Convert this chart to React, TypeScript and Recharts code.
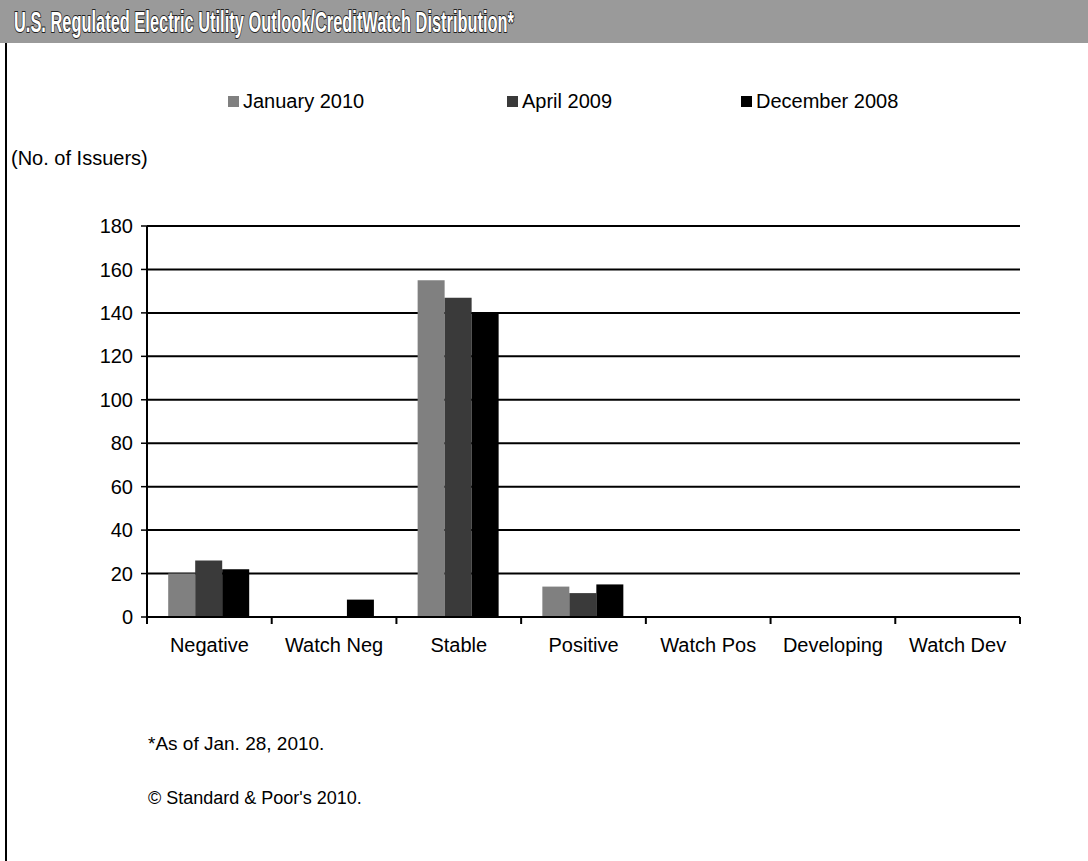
import React from 'react'
import { BarChart, Bar, XAxis, YAxis, CartesianGrid } from 'recharts'

const categories = ['Negative', 'Watch Neg', 'Stable', 'Positive', 'Watch Pos', 'Developing', 'Watch Dev']
const jan2010 = [20, 0, 155, 14, 0, 0, 0]
const apr2009 = [26, 0, 147, 11, 0, 0, 0]
const dec2008 = [22, 8, 140, 15, 0, 0, 0]
const yTicks = [0, 20, 40, 60, 80, 100, 120, 140, 160, 180]

const series = [
  { key: 'jan', name: 'January 2010', color: '#808080', legendX: 228 },
  { key: 'apr', name: 'April 2009', color: '#3a3a3a', legendX: 507 },
  { key: 'dec', name: 'December 2008', color: '#000000', legendX: 741 },
]

const data = categories.map((c, i) => ({
  name: c,
  jan: jan2010[i],
  apr: apr2009[i],
  dec: dec2008[i],
}))

const font = '"Liberation Sans", Arial, sans-serif'

function CategoryTick(props: any) {
  const { x, y, payload, index, visibleTicksCount } = props
  const half = payload?.offset ?? 0
  const last = index === visibleTicksCount - 1
  return (
    <g>
      <line x1={x - half} x2={x - half} y1={y} y2={y + 7} stroke="#000" strokeWidth={2} />
      {last && <line x1={x + half} x2={x + half} y1={y} y2={y + 7} stroke="#000" strokeWidth={2} />}
      <text x={x} y={y + 35} textAnchor="middle" fontSize={20} fontFamily={font} fill="#000">
        {payload.value}
      </text>
    </g>
  )
}

export default function App() {
  return (
    <div style={{ position: 'absolute', left: 0, top: 0, width: 1088, height: 861, background: '#fff', fontFamily: font, overflow: 'hidden' }}>
      <div style={{ position: 'absolute', left: 5, top: 0, width: 2, height: 861, background: '#000' }} />
      <svg width={1088} height={43} style={{ position: 'absolute', left: 0, top: 0 }}>
        <rect x={0} y={0} width={1088} height={43} fill="#9a9a9a" />
        <text
          x={14}
          y={32}
          fontSize={30}
          fontWeight="bold"
          fontFamily='"Liberation Sans Narrow", "Arial Narrow", "Liberation Sans", sans-serif'
          fill="#fff"
          stroke="#222"
          strokeWidth={2}
          paintOrder="stroke"
          textLength={500}
          lengthAdjust="spacingAndGlyphs"
        >
          U.S. Regulated Electric Utility Outlook/CreditWatch Distribution*
        </text>
      </svg>

      {series.map(s => (
        <div key={s.key} style={{ position: 'absolute', left: s.legendX, top: 90, display: 'flex', alignItems: 'center', fontSize: 20, color: '#000' }}>
          <span style={{ display: 'inline-block', width: 11, height: 11, background: s.color, marginRight: 4 }} />
          {s.name}
        </div>
      ))}

      <div style={{ position: 'absolute', left: 11, top: 147, fontSize: 20, color: '#000' }}>(No. of Issuers)</div>

      <div style={{ position: 'absolute', left: 0, top: 0 }}>
        <BarChart
          width={1088}
          height={861}
          data={data}
          margin={{ top: 226, right: 68, bottom: 204, left: 0 }}
          barCategoryGap="17%"
          barGap={0}
        >
          <CartesianGrid vertical={false} stroke="#000" strokeWidth={2} />
          <XAxis
            dataKey="name"
            height={40}
            tickLine={false}
            tickSize={0}
            tickMargin={0}
            axisLine={{ stroke: '#000', strokeWidth: 2 }}
            tick={<CategoryTick />}
            interval={0}
          />
          <YAxis
            width={147}
            domain={[0, 180]}
            ticks={yTicks}
            interval={0}
            tickSize={6}
            tickMargin={8}
            tickLine={{ stroke: '#000', strokeWidth: 1.5 }}
            axisLine={{ stroke: '#000', strokeWidth: 2 }}
            tick={{ fill: '#000', fontSize: 20, fontFamily: font }}
          />
          {series.map(s => (
            <Bar key={s.key} dataKey={s.key} name={s.name} fill={s.color} isAnimationActive={false} />
          ))}
        </BarChart>
      </div>

      <div style={{ position: 'absolute', left: 148, top: 733, fontSize: 19, color: '#000' }}>*As of Jan. 28, 2010.</div>
      <div style={{ position: 'absolute', left: 148, top: 788, fontSize: 18, color: '#000' }}>© Standard &amp; Poor's 2010.</div>
    </div>
  )
}
